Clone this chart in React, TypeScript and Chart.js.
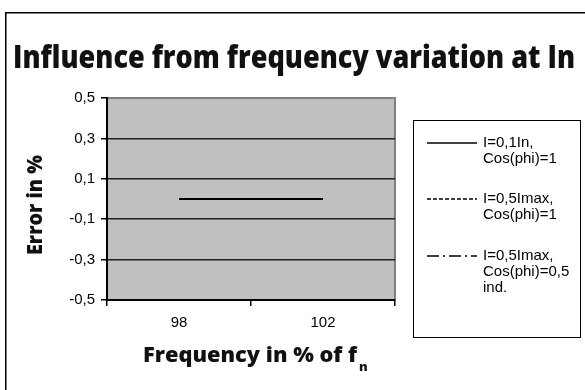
import React, { useEffect, useRef } from "react";
import { Chart, registerables } from "chart.js";
Chart.register(...registerables);

const categories = ["98", "102"];
const seriesA = [0, 0];
const seriesB = [0, 0];
const seriesC = [0, 0];
const seriesLabels = [
  ["I=0,1In,", "Cos(phi)=1"],
  ["I=0,5Imax,", "Cos(phi)=1"],
  ["I=0,5Imax,", "Cos(phi)=0,5", "ind."],
];
const yTicks = [-0.5, -0.3, -0.1, 0.1, 0.3, 0.5];
const titleText = "Influence from frequency variation at In";
const yTitle = "Error in %";
const xTitle = "Frequency in % of f";
const xTitleSub = "n";

const W = 585;
const H = 390;

const drawFitted = (ctx: any, text: string, font: string, x: number, y: number, width: number, rot = 0, align = "left") => {
  ctx.save();
  ctx.font = font;
  const w = ctx.measureText(text).width;
  ctx.translate(x, y);
  if (rot) ctx.rotate(rot);
  ctx.scale(width / w, 1);
  ctx.textAlign = align;
  ctx.textBaseline = "alphabetic";
  ctx.fillText(text, 0, 0);
  ctx.restore();
};

const decor = {
  id: "decor",
  beforeDraw(chart: any) {
    const { ctx, chartArea: a } = chart;
    ctx.save();
    ctx.fillStyle = "#fff";
    ctx.fillRect(0, 0, chart.width, chart.height);
    ctx.strokeStyle = "#000";
    ctx.lineWidth = 1.5;
    ctx.strokeRect(5.75, 12.75, chart.width + 20, chart.height + 20);
    ctx.fillStyle = "#C0C0C0";
    ctx.fillRect(a.left, a.top, a.right - a.left, a.bottom - a.top);
    ctx.strokeStyle = "#808080";
    ctx.lineWidth = 2;
    ctx.beginPath();
    ctx.moveTo(a.left, a.top);
    ctx.lineTo(a.right, a.top);
    ctx.lineTo(a.right, a.bottom);
    ctx.stroke();
    ctx.restore();
  },
  afterDraw(chart: any) {
    const { ctx } = chart;
    ctx.save();
    ctx.fillStyle = "#111";
    drawFitted(ctx, titleText, "800 31px 'Open Sans'", 13, 68, 562);
    drawFitted(ctx, yTitle, "800 21px 'Open Sans'", 42, 205, 100, -Math.PI / 2, "center");
    drawFitted(ctx, xTitle, "800 21px 'Open Sans'", 143, 362, 214);
    ctx.font = "800 13px 'Open Sans'";
    ctx.textBaseline = "alphabetic";
    ctx.fillText(xTitleSub, 143 + 214 + 2, 371);

    // Legend
    const lx = 413.5, ly = 120.5, lw = 167, lh = 217;
    ctx.strokeStyle = "#000";
    ctx.lineWidth = 1;
    ctx.strokeRect(lx, ly, lw, lh);
    const entryY = [143, 199, 256];
    ctx.font = "15px 'Liberation Sans', Arial";
    ctx.textBaseline = "middle";
    ctx.textAlign = "left";
    chart.data.datasets.forEach((ds: any, i: number) => {
      const y = entryY[i];
      ctx.save();
      ctx.strokeStyle = ds.borderColor;
      ctx.lineWidth = 1.5;
      ctx.setLineDash(ds.borderDash || []);
      ctx.beginPath();
      ctx.moveTo(427, y);
      ctx.lineTo(477, y);
      ctx.stroke();
      ctx.restore();
      ctx.fillStyle = "#000";
      seriesLabels[i].forEach((t, k) => ctx.fillText(t, 483, y + k * 16));
    });
    ctx.restore();
  },
};

export default function App() {
  const ref = useRef<HTMLCanvasElement | null>(null);
  useEffect(() => {
    const canvas = ref.current!;
    const chart = new Chart(canvas, {
      type: "line",
      data: {
        labels: categories,
        datasets: [
          { label: seriesLabels[0].join(" "), data: seriesA, borderColor: "#000", borderWidth: 2, pointRadius: 0, borderDash: [] },
          { label: seriesLabels[1].join(" "), data: seriesB, borderColor: "#000", borderWidth: 2, pointRadius: 0, borderDash: [4, 2] },
          { label: seriesLabels[2].join(" "), data: seriesC, borderColor: "#000", borderWidth: 2, pointRadius: 0, borderDash: [12, 4, 2, 4] },
        ],
      },
      options: {
        animation: false,
        responsive: false,
        devicePixelRatio: 1,
        layout: { padding: { left: 0, top: 98, right: W - 395, bottom: 0 } },
        plugins: { legend: { display: false }, title: { display: false }, tooltip: { enabled: false } },
        scales: {
          x: {
            type: "category",
            offset: true,
            grid: { offset: true, drawOnChartArea: false, drawTicks: true, tickLength: 6, tickColor: "#000", lineWidth: 1.5 },
            border: { display: true, color: "#000", width: 2 },
            ticks: { color: "#000", font: { family: "'Liberation Sans', Arial", size: 15 }, padding: 8 },
            afterFit: (s: any) => { s.height = H - 300; },
          },
          y: {
            min: -0.5,
            max: 0.5,
            afterBuildTicks: (s: any) => { s.ticks = yTicks.map((v) => ({ value: v })); },
            grid: {
              color: (c: any) => (c.tick && c.tick.value > 0.45 ? "#808080" : "#222"),
              lineWidth: 1.5,
              tickColor: "#000",
              tickLength: 6,
            },
            border: { display: true, color: "#000", width: 2 },
            ticks: {
              color: "#000",
              font: { family: "'Liberation Sans', Arial", size: 15 },
              padding: 6,
              callback: (v: any) => Number(v).toFixed(1).replace(".", ","),
            },
            afterFit: (s: any) => { s.width = 107; },
          },
        },
      },
      plugins: [decor],
    });
    return () => chart.destroy();
  }, []);
  return (
    <div style={{ position: "absolute", left: 0, top: 0, width: W, height: H }}>
      <canvas ref={ref} width={W} height={H} style={{ width: W, height: H, display: "block" }} />
    </div>
  );
}
